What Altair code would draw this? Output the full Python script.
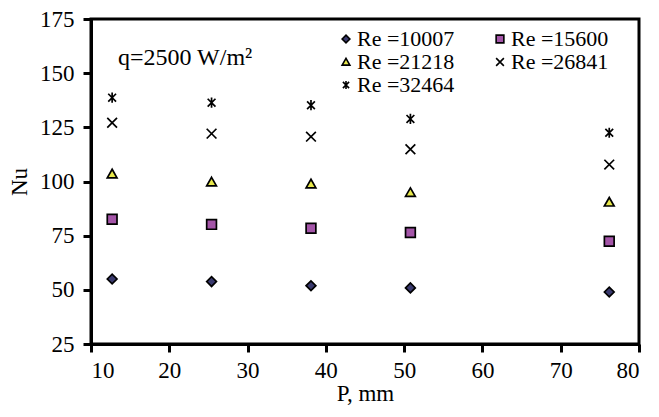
import altair as alt
import pandas as pd

p_mm = [12.7, 25.4, 38.1, 50.8, 76.2]
series = ["Re =10007", "Re =15600", "Re =21218", "Re =26841", "Re =32464"]
nu_10007 = [55.0, 53.8, 51.9, 50.9, 49.0]
nu_15600 = [82.6, 80.2, 78.4, 76.5, 72.4]
nu_21218 = [103.5, 99.8, 98.9, 94.9, 90.5]
nu_26841 = [127.1, 122.1, 120.7, 114.9, 107.8]
nu_32464 = [138.7, 136.4, 135.2, 128.9, 122.5]

rows = []
for name, vals in zip(series, [nu_10007, nu_15600, nu_21218, nu_26841, nu_32464]):
    for p, v in zip(p_mm, vals):
        rows.append({"P": p, "Nu": v, "Re": name})
df = pd.DataFrame(rows)

FONT = "Liberation Serif"
shapes = [
    "diamond",
    "square",
    "M0,-0.95L1,0.8L-1,0.8Z",
    "M-1,-1L1,1M-1,1L1,-1",
    "M-0.8,-0.8L0.8,0.8M-0.8,0.8L0.8,-0.8M0,-1.05L0,1.05",
]
fills = ["#3a3a6e", "#a455a8", "#e8e84a", "transparent", "transparent"]
strokes = ["black"] * 5

leg = alt.Legend(title=None, orient="none", legendX=244, legendY=9,
                 direction="horizontal", columns=2, columnPadding=34, rowPadding=1,
                 symbolSize=60, symbolStrokeWidth=1.6,
                 labelFont=FONT, labelFontSize=22, labelColor="black", labelOffset=0)

points = alt.Chart(df).mark_point(
    filled=True, strokeWidth=1.7, size=95, opacity=1
).encode(
    x=alt.X("P:Q", scale=alt.Scale(domain=[10, 80], nice=False, zero=False),
            axis=alt.Axis(values=list(range(10, 81, 10)), title="P, mm")),
    y=alt.Y("Nu:Q", scale=alt.Scale(domain=[25, 175], nice=False, zero=False),
            axis=alt.Axis(values=list(range(25, 176, 25)), title="Nu")),
    shape=alt.Shape("Re:N", scale=alt.Scale(domain=series, range=shapes), legend=leg),
    fill=alt.Fill("Re:N", scale=alt.Scale(domain=series, range=fills), legend=leg),
    stroke=alt.Stroke("Re:N", scale=alt.Scale(domain=series, range=strokes), legend=leg),
)

note = alt.Chart(pd.DataFrame({"t": ["q=2500 W/m²"]})).mark_text(
    font=FONT, fontSize=24, align="left", baseline="middle", color="black"
).encode(x=alt.value(27), y=alt.value(39), text="t:N")

chart = alt.layer(points, note).properties(
    width=548, height=325,
    padding={"left": 0, "top": 0, "right": 5, "bottom": 0}
).configure_view(
    stroke="black", strokeWidth=3
).configure_axis(
    domainColor="black", domainWidth=3, tickColor="black", tickWidth=3, tickSize=8,
    grid=False, labelFont=FONT, labelFontSize=23, labelColor="black",
    titleFont=FONT, titleFontSize=23, titleFontWeight="normal", titleColor="black",
) .configure_axisY(
    labelPadding=9, titlePadding=8
).configure_axisX(
    labelPadding=7, titlePadding=0
)

chart.save("out.html", embed_options={"renderer": "svg", "actions": False})
